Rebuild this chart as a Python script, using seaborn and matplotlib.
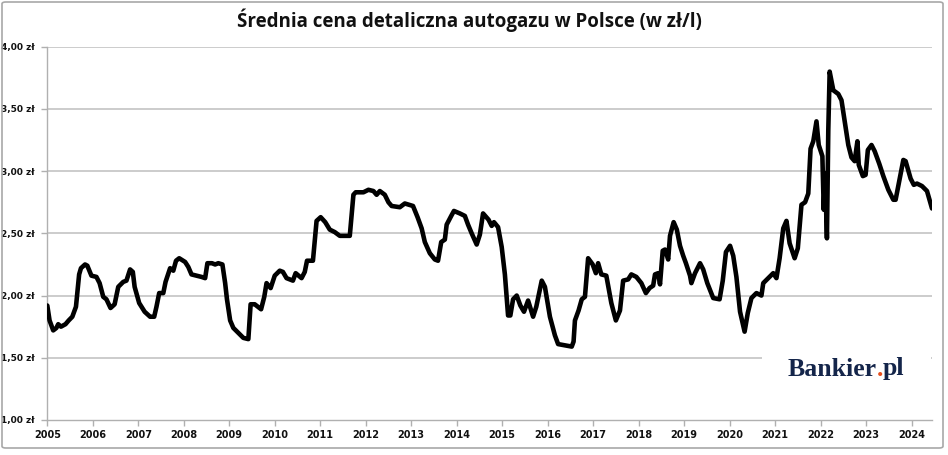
import matplotlib
matplotlib.use("Agg")
import matplotlib.pyplot as plt
import seaborn as sns
import pandas as pd
from matplotlib.patches import FancyBboxPatch, Rectangle
from matplotlib.offsetbox import TextArea, HPacker, AnchoredOffsetbox

# ---- data (decimal year, price in zł/l) ----
t = [2005.00, 2005.05, 2005.13, 2005.20, 2005.24, 2005.30, 2005.40, 2005.47, 2005.55, 2005.63,
     2005.70, 2005.74, 2005.83, 2005.88, 2005.97, 2006.08, 2006.15, 2006.23, 2006.30, 2006.39,
     2006.48, 2006.56, 2006.67, 2006.74, 2006.82, 2006.88, 2006.92, 2007.02, 2007.14, 2007.26,
     2007.35, 2007.40, 2007.46, 2007.55, 2007.60, 2007.70, 2007.77, 2007.83, 2007.90, 2008.03,
     2008.10, 2008.17, 2008.28, 2008.39, 2008.47, 2008.52, 2008.62, 2008.69, 2008.76, 2008.85,
     2008.91, 2008.95, 2009.02, 2009.09, 2009.20, 2009.31, 2009.42, 2009.47, 2009.56, 2009.70,
     2009.77, 2009.82, 2009.91, 2010.00, 2010.11, 2010.18, 2010.26, 2010.40, 2010.46, 2010.59,
     2010.66, 2010.71, 2010.84, 2010.92, 2011.01, 2011.11, 2011.21, 2011.32, 2011.43, 2011.54,
     2011.65, 2011.73, 2011.78, 2011.95, 2012.06, 2012.17, 2012.24, 2012.31, 2012.42, 2012.50,
     2012.57, 2012.75, 2012.86, 2013.04, 2013.14, 2013.23, 2013.30, 2013.41, 2013.52, 2013.59,
     2013.66, 2013.74, 2013.78, 2013.88, 2013.94, 2014.07, 2014.18, 2014.25, 2014.33, 2014.44,
     2014.51, 2014.58, 2014.70, 2014.77, 2014.82, 2014.91, 2014.99, 2015.06, 2015.13, 2015.18,
     2015.24, 2015.32, 2015.40, 2015.48, 2015.57, 2015.68, 2015.75, 2015.87, 2015.94, 2016.05,
     2016.16, 2016.23, 2016.38, 2016.53, 2016.57, 2016.60, 2016.68, 2016.75, 2016.82, 2016.89,
     2016.99, 2017.06, 2017.11, 2017.18, 2017.29, 2017.40, 2017.50, 2017.59, 2017.66, 2017.77,
     2017.84, 2017.95, 2018.06, 2018.16, 2018.24, 2018.32, 2018.36, 2018.43, 2018.47, 2018.53,
     2018.58, 2018.65, 2018.69, 2018.77, 2018.84, 2018.91, 2018.98, 2019.04, 2019.13, 2019.16,
     2019.24, 2019.35, 2019.42, 2019.51, 2019.64, 2019.78, 2019.85, 2019.92, 2020.01, 2020.08,
     2020.15, 2020.23, 2020.33, 2020.40, 2020.48, 2020.59, 2020.70, 2020.74, 2020.85, 2020.96,
     2021.03, 2021.10, 2021.18, 2021.25, 2021.32, 2021.43, 2021.50, 2021.58, 2021.66, 2021.73,
     2021.78, 2021.84, 2021.91, 2021.96, 2022.04, 2022.07, 2022.10, 2022.14, 2022.17, 2022.20,
     2022.28, 2022.39, 2022.46, 2022.61, 2022.68, 2022.75, 2022.81, 2022.84, 2022.93, 2022.99,
     2023.04, 2023.12, 2023.19, 2023.29, 2023.38, 2023.49, 2023.60, 2023.65, 2023.75, 2023.82,
     2023.87, 2023.98, 2024.05, 2024.12, 2024.23, 2024.34, 2024.45]
price = [1.92, 1.80, 1.72, 1.74, 1.77, 1.75, 1.77, 1.80, 1.83, 1.91,
         2.17, 2.22, 2.25, 2.24, 2.16, 2.15, 2.10, 1.99, 1.97, 1.90,
         1.93, 2.07, 2.11, 2.12, 2.21, 2.19, 2.07, 1.94, 1.87, 1.83,
         1.83, 1.91, 2.02, 2.02, 2.11, 2.22, 2.20, 2.28, 2.30, 2.27,
         2.23, 2.17, 2.16, 2.15, 2.14, 2.26, 2.26, 2.25, 2.26, 2.25,
         2.10, 1.97, 1.80, 1.74, 1.70, 1.66, 1.65, 1.93, 1.93, 1.89,
         1.99, 2.10, 2.06, 2.16, 2.20, 2.19, 2.14, 2.12, 2.18, 2.14,
         2.19, 2.28, 2.28, 2.60, 2.63, 2.59, 2.53, 2.51, 2.48, 2.48,
         2.48, 2.81, 2.83, 2.83, 2.85, 2.84, 2.81, 2.84, 2.81, 2.75,
         2.72, 2.71, 2.74, 2.72, 2.63, 2.54, 2.43, 2.34, 2.29, 2.28,
         2.43, 2.45, 2.57, 2.64, 2.68, 2.66, 2.64, 2.57, 2.50, 2.41,
         2.49, 2.66, 2.61, 2.56, 2.59, 2.55, 2.39, 2.17, 1.84, 1.84,
         1.97, 2.00, 1.92, 1.87, 1.96, 1.83, 1.91, 2.12, 2.07, 1.83,
         1.68, 1.61, 1.60, 1.59, 1.63, 1.80, 1.88, 1.97, 1.99, 2.30,
         2.25, 2.18, 2.26, 2.17, 2.16, 1.94, 1.80, 1.88, 2.12, 2.13,
         2.17, 2.15, 2.10, 2.02, 2.06, 2.08, 2.17, 2.18, 2.09, 2.36,
         2.37, 2.29, 2.48, 2.59, 2.53, 2.40, 2.32, 2.26, 2.16, 2.10,
         2.18, 2.26, 2.21, 2.10, 1.98, 1.97, 2.12, 2.35, 2.40, 2.32,
         2.15, 1.87, 1.71, 1.86, 1.98, 2.02, 2.00, 2.10, 2.14, 2.18,
         2.14, 2.30, 2.54, 2.60, 2.42, 2.30, 2.38, 2.73, 2.75, 2.82,
         3.18, 3.24, 3.40, 3.21, 3.12, 2.69, 2.98, 2.46, 3.33, 3.80,
         3.65, 3.62, 3.57, 3.21, 3.11, 3.08, 3.24, 3.05, 2.96, 2.97,
         3.17, 3.21, 3.16, 3.06, 2.96, 2.85, 2.77, 2.77, 2.96, 3.09,
         3.08, 2.94, 2.89, 2.90, 2.88, 2.84, 2.70]

years = list(range(2005, 2025))
year_labels = [str(y) for y in years]
y_ticks = [1.00, 1.50, 2.00, 2.50, 3.00, 3.50, 4.00]
y_labels = ["1,00 zł", "1,50 zł", "2,00 zł", "2,50 zł", "3,00 zł", "3,50 zł", "4,00 zł"]
title = "Średnia cena detaliczna autogazu w Polsce (w zł/l)"

df = pd.DataFrame({"t": t, "price": price})

sns.set_theme(style="white")
plt.rcParams["font.family"] = ["Open Sans", "DejaVu Sans"]

fig = plt.figure(figsize=(9.48, 4.55), dpi=100)
ax = fig.add_axes([47.3 / 948, 1 - 420 / 455, (932 - 47.3) / 948, (420 - 46.7) / 455])

sns.lineplot(data=df, x="t", y="price", ax=ax, color="black", linewidth=3.3,
             solid_joinstyle="round", solid_capstyle="round", zorder=5)

ax.set_xlim(2005.0, 2024.45)
ax.set_ylim(1.0, 4.0)
ax.set_xticks(years)
ax.set_xticklabels(year_labels, fontsize=7, fontweight="bold", color="#111111",
                   family="DejaVu Sans")
ax.set_yticks(y_ticks)
ax.set_yticklabels(y_labels, fontsize=6.5, fontweight="bold", color="#111111",
                   family="DejaVu Sans")
ax.set_xlabel("")
ax.set_ylabel("")

for v in y_ticks[1:]:
    ax.axhline(v, color="#c4c4c4", linewidth=1.2, zorder=1)

for s in ["top", "right"]:
    ax.spines[s].set_visible(False)
for s in ["left", "bottom"]:
    ax.spines[s].set_color("#b0b0b0")
    ax.spines[s].set_linewidth(1.0)

ax.tick_params(axis="both", which="major", length=4, width=1, color="#b0b0b0",
               pad=3, left=True, bottom=True, direction="out")
ax.tick_params(axis="y", pad=5)

# white box behind logo
ax.add_patch(Rectangle((762 / 948, 1 - 395 / 455), (931 - 762) / 948, 60 / 455,
                       transform=fig.transFigure, facecolor="white", edgecolor="none",
                       zorder=3))

# logo
logo_font = dict(family="Liberation Serif", weight="bold", size=18.5)
parts = [TextArea("Bankier", textprops=dict(color="#14254a", **logo_font)),
         TextArea(".", textprops=dict(color="#e8501e", **logo_font)),
         TextArea("pl", textprops=dict(color="#14254a", **logo_font))]
box = HPacker(children=parts, align="baseline", pad=0, sep=0)
anch = AnchoredOffsetbox(loc="center", child=box, frameon=False,
                         bbox_to_anchor=(846 / 948, 1 - 369 / 455),
                         bbox_transform=fig.transFigure, borderpad=0, pad=0)
anch.set_zorder(6)
ax.add_artist(anch)

fig.text(469 / 948, 1 - 20 / 455, title, ha="center", va="center",
         fontsize=13.5, fontweight="bold", color="#111111")

# figure border
fig.patches.append(FancyBboxPatch((2 / 948, 7 / 455), 941 / 948, 446 / 455,
                                  boxstyle="round,pad=0,rounding_size=0.004",
                                  transform=fig.transFigure, facecolor="none",
                                  edgecolor="#a8a8a8", linewidth=1.2))

fig.savefig("out.png", dpi=100)
